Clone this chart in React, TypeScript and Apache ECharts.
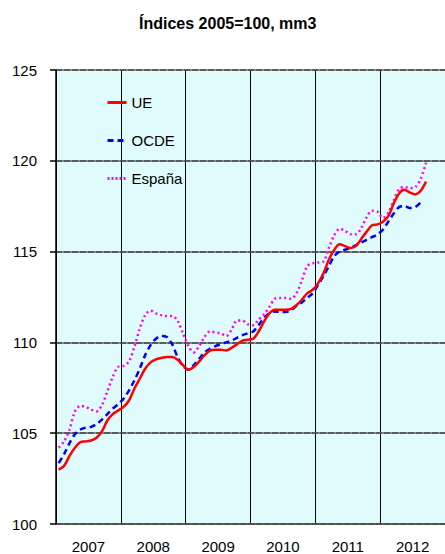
import React, { useEffect, useRef } from "react";
import * as echarts from "echarts";

const years = ["2007", "2008", "2009", "2010", "2011", "2012"];
const months: string[] = [];
for (const y of years) for (let m = 1; m <= 12; m++) months.push(`${y}-${m}`);

const ue = [
  103.0, 103.2, 103.75, 104.2, 104.5, 104.55, 104.6, 104.75, 105.1, 105.7, 106.05, 106.25,
  106.45, 106.8, 107.45, 108.0, 108.55, 108.9, 109.07, 109.15, 109.2, 109.2, 109.05, 108.75,
  108.5, 108.65, 108.95, 109.3, 109.55, 109.6, 109.6, 109.55, 109.7, 109.9, 110.1, 110.15,
  110.2, 110.6, 111.15, 111.6, 111.8, 111.8, 111.8, 111.85, 112.05, 112.35, 112.7, 112.9,
  113.25, 113.8, 114.55, 115.1, 115.4, 115.3, 115.2, 115.3, 115.7, 116.1, 116.45, 116.5,
  116.65, 116.95, 117.65, 118.2, 118.4, 118.25, 118.15, 118.35, 118.85,
];
const ocde = [
  103.35, 103.85, 104.45, 104.95, 105.2, 105.3, 105.35, 105.5, 105.75, 106.05, 106.35, 106.6,
  106.9, 107.35, 107.9, 108.55, 109.3, 109.85, 110.2, 110.35, 110.3, 109.9, 109.2, 108.7,
  108.5, 108.75, 109.1, 109.45, 109.65, 109.8, 109.9, 110.0, 110.1, 110.25, 110.4, 110.5,
  110.6, 110.95, 111.35, 111.6, 111.7, 111.68, 111.68, 111.78, 112.0, 112.2, 112.45, 112.7,
  113.15, 113.65, 114.2, 114.75, 115.0, 115.1, 115.2, 115.35, 115.5, 115.65, 115.8, 115.95,
  116.2, 116.65, 117.1, 117.45, 117.5, 117.4, 117.45, 117.7,
];
const espana = [
  104.2, 104.55, 105.2, 106.2, 106.5, 106.45, 106.3, 106.2, 106.55, 107.3, 108.1, 108.65,
  108.7, 108.95, 109.75, 110.75, 111.5, 111.75, 111.6, 111.5, 111.45, 111.45, 111.2, 110.5,
  109.8, 109.45, 109.8, 110.3, 110.6, 110.55, 110.5, 110.35, 110.7, 111.2, 111.2, 111.0,
  110.95, 111.25, 111.55, 111.95, 112.4, 112.45, 112.45, 112.4, 112.7, 113.4, 114.2, 114.35,
  114.4, 114.45, 115.2, 115.9, 116.25, 116.15, 115.95, 115.95, 116.3, 116.9, 117.25, 117.2,
  116.85, 117.15, 117.8, 118.45, 118.55, 118.5, 118.55, 119.0, 119.9,
];

const FONT = "Liberation Sans, Arial, sans-serif";

export default function App() {
  const ref = useRef<HTMLDivElement>(null);
  useEffect(() => {
    if (!ref.current) return;
    const chart = echarts.init(ref.current, null, { renderer: "svg" });
    chart.setOption({
      animation: false,
      backgroundColor: "#ffffff",
      title: {
        text: "Índices 2005=100, mm3",
        left: 134,
        top: 10,
        textStyle: { fontFamily: FONT, fontSize: 16, fontWeight: "bold", color: "#000" },
      },
      legend: {
        orient: "vertical",
        left: 101,
        top: 90,
        itemWidth: 19,
        itemHeight: 14,
        itemGap: 23,
        itemStyle: { opacity: 0 },
        textStyle: { fontFamily: FONT, fontSize: 15, color: "#000" },
        data: [
          { name: "UE", itemStyle: { opacity: 0 }, lineStyle: { color: "#ff0000", width: 3, type: "solid" } },
          { name: "OCDE", itemStyle: { opacity: 0 }, lineStyle: { color: "#0000ff", width: 3, type: [6, 4] } },
          { name: "España", itemStyle: { opacity: 0 }, lineStyle: { color: "#ff00ff", width: 3, type: [2, 2] } },
        ],
      },
      grid: {
        left: 56,
        top: 70,
        width: 390,
        height: 454,
        containLabel: false,
        show: true,
        backgroundColor: "#e0fbfb",
        borderWidth: 0,
      },
      xAxis: [
        {
          type: "category",
          data: months,
          boundaryGap: true,
          show: false,
        },
        {
          type: "category",
          data: years,
          boundaryGap: true,
          position: "bottom",
          axisLine: { show: true, lineStyle: { color: "#000", width: 1.5 } },
          axisTick: { show: false },
          axisLabel: { fontFamily: FONT, fontSize: 15, color: "#000", margin: 15 },
          splitLine: { show: true, lineStyle: { color: "#000", width: 1 } },
        },
      ],
      yAxis: [
        {
          type: "value",
          min: 100,
          max: 125,
          interval: 5,
          axisLine: { show: true, lineStyle: { color: "#000", width: 1.5 } },
          axisTick: { show: true, length: 6, lineStyle: { color: "#000", width: 1.5 } },
          axisLabel: { fontFamily: FONT, fontSize: 15, color: "#000", margin: 19 },
          splitLine: { show: true, lineStyle: { color: "#666", width: 1.5 } },
          z: 1,
        },
        {
          type: "value",
          min: 100,
          max: 125,
          interval: 5,
          show: true,
          axisLine: { show: false },
          axisTick: { show: false },
          axisLabel: { show: false },
          splitLine: { show: true, lineStyle: { color: "#000", width: 1.5, type: [6, 2] } },
        },
      ],
      series: [
        {
          name: "UE",
          type: "line",
          data: ue,
          xAxisIndex: 0,
          yAxisIndex: 0,
          symbol: "none",
          smooth: 0.3,
          lineStyle: { color: "#ff0000", width: 2.5 },
          itemStyle: { color: "#ff0000" },
          z: 5,
        },
        {
          name: "OCDE",
          type: "line",
          data: ocde,
          xAxisIndex: 0,
          yAxisIndex: 0,
          symbol: "none",
          smooth: 0.3,
          lineStyle: { color: "#0000ff", width: 2.5, type: [6, 4] },
          itemStyle: { color: "#0000ff" },
          z: 4,
        },
        {
          name: "España",
          type: "line",
          data: espana,
          xAxisIndex: 0,
          yAxisIndex: 0,
          symbol: "none",
          smooth: 0.3,
          lineStyle: { color: "#ff00ff", width: 2.5, type: [2, 3] },
          itemStyle: { color: "#ff00ff" },
          z: 3,
        },
      ],
    });
    return () => chart.dispose();
  }, []);
  return <div ref={ref} style={{ width: 445, height: 554, position: "absolute", left: 0, top: 0 }} />;
}
